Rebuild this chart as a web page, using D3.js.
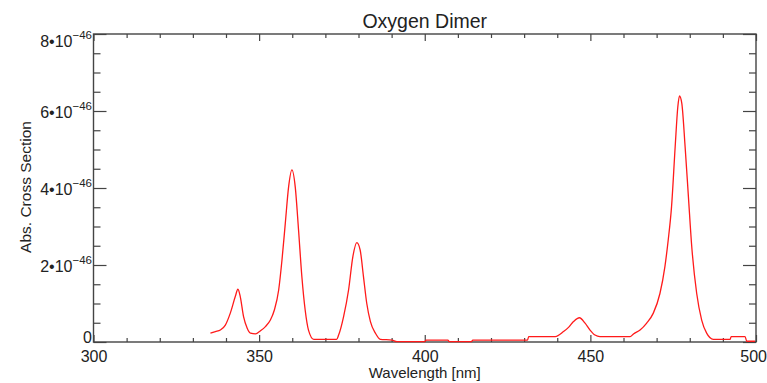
<!DOCTYPE html>
<html>
<head>
<meta charset="utf-8">
<script src="https://cdn.jsdelivr.net/npm/d3@7"></script>
<style>
    body { margin: 0; background: #fff; }
    text { font-family: "Liberation Sans", Arial, Helvetica, sans-serif; fill: #222; }
</style>
</head>
<body>
<div id="chart"></div>
<script>
// Wavelength [nm] and cross section (in units of 1e-46)
const wavelength = [335.3, 336.8, 338.3, 339.8, 341.3, 342.8, 343.6, 344.3, 345.3, 346.4,
    347.4, 348.9, 350.4, 351.9, 353.4, 354.6, 355.9, 356.9, 357.9, 358.9,
    359.9, 360.9, 361.9, 362.9, 363.9, 364.9, 366.5, 373.4, 374.0, 375.5,
    377.0, 378.3, 379.5, 380.5, 381.5, 382.5, 383.6, 385.1, 386.6, 390.1,
    391.6, 400.0, 400.4, 407.0, 407.4, 414.1, 414.5, 431.0, 431.4, 439.4,
    441.9, 443.4, 444.9, 446.7, 448.4, 449.9, 451.4, 452.9, 462.0, 463.0,
    465.0, 467.0, 469.0, 471.0, 472.5, 473.5, 474.5, 475.6, 476.4, 476.9,
    477.6, 478.6, 479.6, 480.6, 482.1, 483.6, 485.1, 487.1, 492.2, 492.5,
    496.7, 497.2, 499.7];
const crossSection = [0.23, 0.27, 0.31, 0.44, 0.75, 1.18, 1.37, 1.18, 0.66, 0.36,
    0.23, 0.21, 0.29, 0.40, 0.57, 0.83, 1.35, 2.13, 3.08, 4.03,
    4.47, 4.03, 2.91, 1.70, 0.83, 0.31, 0.07, 0.07, 0.18, 0.66,
    1.35, 2.22, 2.58, 2.39, 1.70, 1.00, 0.53, 0.23, 0.07, 0.05,
    0.01, 0.01, 0.05, 0.05, 0.01, 0.01, 0.05, 0.05, 0.14, 0.14,
    0.27, 0.38, 0.53, 0.63, 0.49, 0.31, 0.18, 0.14, 0.14, 0.21,
    0.31, 0.49, 0.75, 1.26, 1.96, 2.65, 3.51, 5.07, 6.11, 6.39,
    6.2, 5.07, 3.77, 2.48, 1.26, 0.57, 0.23, 0.07, 0.07, 0.14,
    0.14, 0.02, 0.02];

const xMajorTicks = [300, 350, 400, 450, 500];
const yMajorTicks = [0, 2, 4, 6, 8];
const titleText = "Oxygen Dimer";
const xLabel = "Wavelength [nm]";
const yLabel = "Abs. Cross Section";

const W = 767, H = 383;
const margin = { top: 34, left: 93.5, bottom: 41, right: 11 };
const width = W - margin.left - margin.right;
const height = H - margin.top - margin.bottom;

const svg = d3.select("#chart").append("svg")
    .attr("width", W).attr("height", H);

const g = svg.append("g")
    .attr("transform", `translate(${margin.left}, ${margin.top})`);

const x = d3.scaleLinear().domain([300, 500]).range([0, width]);
const y = d3.scaleLinear().domain([0, 8]).range([height, 0]);

const xMinor = d3.range(300, 501, 10).filter(v => v % 50 !== 0);
const yMinor = d3.range(0, 8.01, 0.5).filter(v => v % 2 !== 0);

const axisColor = "#444";

function styleAxis(sel) {
    sel.selectAll(".domain").remove();
    sel.selectAll("line").attr("stroke", axisColor).attr("stroke-width", 1.2);
}

// Bottom axis (labels) + minor ticks
g.append("g")
    .attr("transform", `translate(0, ${height})`)
    .call(d3.axisBottom(x).tickValues(xMajorTicks).tickSizeInner(-7).tickSizeOuter(0).tickPadding(9))
    .call(styleAxis)
    .call(s => s.selectAll("text").attr("font-size", 16).attr("fill", "#222"))
    // keep the last label inside the window
    .call(s => s.selectAll(".tick").filter(d => d === 500).select("text")
        .attr("text-anchor", "end").attr("x", 10.5));
g.append("g")
    .attr("transform", `translate(0, ${height})`)
    .call(d3.axisBottom(x).tickValues(xMinor).tickSizeInner(-4).tickSizeOuter(0).tickFormat(""))
    .call(styleAxis);

// Top axis ticks
g.append("g")
    .call(d3.axisTop(x).tickValues(xMajorTicks).tickSizeInner(-7).tickSizeOuter(0).tickFormat(""))
    .call(styleAxis);
g.append("g")
    .call(d3.axisTop(x).tickValues(xMinor).tickSizeInner(-4).tickSizeOuter(0).tickFormat(""))
    .call(styleAxis);

// Left axis (labels) + minor ticks
const yAxisG = g.append("g")
    .call(d3.axisLeft(y).tickValues(yMajorTicks).tickSizeInner(-13).tickSizeOuter(0).tickFormat(""))
    .call(styleAxis);
g.append("g")
    .call(d3.axisLeft(y).tickValues(yMinor).tickSizeInner(-7).tickSizeOuter(0).tickFormat(""))
    .call(styleAxis);

// Right axis ticks
g.append("g")
    .attr("transform", `translate(${width}, 0)`)
    .call(d3.axisRight(y).tickValues(yMajorTicks).tickSizeInner(-13).tickSizeOuter(0).tickFormat(""))
    .call(styleAxis);
g.append("g")
    .attr("transform", `translate(${width}, 0)`)
    .call(d3.axisRight(y).tickValues(yMinor).tickSizeInner(-7).tickSizeOuter(0).tickFormat(""))
    .call(styleAxis);

// Y tick labels with exponent (top label nudged down, zero nudged up, as in the original)
yAxisG.selectAll(".tick").each(function (d) {
    let shift = d === 8 ? 7 : (d === 0 ? -5 : 1);
    const t = d3.select(this).append("text")
        .attr("x", -1.5)
        .attr("y", 5.5 + shift)
        .attr("text-anchor", "end")
        .attr("font-size", 16)
        .attr("fill", "#222");
    if (d === 0) {
        t.text("0");
    } else {
        t.append("tspan").text(`${d}\u202210`);
        t.append("tspan").attr("font-size", 11.5).attr("dy", -8.5).text("\u221246");
    }
});

// Frame
g.append("rect")
    .attr("width", width).attr("height", height)
    .attr("fill", "none")
    .attr("stroke", axisColor)
    .attr("stroke-width", 1.4);

// Data line
const data = wavelength.map((w, i) => [w, crossSection[i]]);
const line = d3.line()
    .curve(d3.curveMonotoneX)
    .x(d => x(d[0]))
    .y(d => y(d[1]));

g.append("path")
    .datum(data)
    .attr("d", line)
    .attr("fill", "none")
    .attr("stroke", "#ff1a1a")
    .attr("stroke-width", 1.3)
    .attr("stroke-linejoin", "round");

// Title and axis labels
svg.append("text")
    .attr("x", margin.left + width / 2)
    .attr("y", 28)
    .attr("text-anchor", "middle")
    .attr("font-size", 19.5)
    .text(titleText);

svg.append("text")
    .attr("x", margin.left + width / 2)
    .attr("y", 378)
    .attr("text-anchor", "middle")
    .attr("font-size", 15)
    .text(xLabel);

svg.append("text")
    .attr("transform", `translate(31, ${margin.top + height / 2 - 1}) rotate(-90)`)
    .attr("text-anchor", "middle")
    .attr("font-size", 15.5)
    .text(yLabel);
</script>
</body>
</html>
